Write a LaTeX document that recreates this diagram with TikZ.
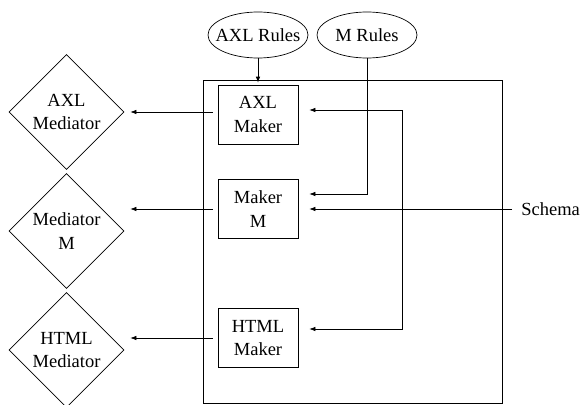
\documentclass[tikz,border=0pt]{standalone}
\usepackage{fontspec}
\setmainfont{Liberation Serif}
\usetikzlibrary{shapes.geometric,arrows.meta}
\tikzset{
 maker/.style={draw, minimum width=80pt, minimum height=59pt, inner sep=0pt, align=center},
 mediator/.style={draw, diamond, minimum size=115pt, inner sep=0pt, align=center},
 rules/.style={draw, ellipse, minimum width=100pt, minimum height=46pt, inner sep=0pt},
 arr/.style={-{Latex[length=6pt,width=4.5pt]}},
 arrboth/.style={{Latex[length=6pt,width=4.5pt]}-{Latex[length=6pt,width=4.5pt]}}
}
\begin{document}
\begin{tikzpicture}[x=1pt, y=-1pt, line width=0.7pt,
 font=\fontsize{18.5pt}{23.5pt}\selectfont]
\useasboundingbox (0,0) rectangle (585,404);

\node[rules] (axlrules) at (258,35) {\makebox[0pt]{AXL Rules}};
\node[rules] (mrules) at (367,35) {\makebox[0pt]{M Rules}};

\draw (203,80) rectangle (502,403);

\node[maker] (axlmaker) at (258,114.5) {AXL\\Maker};
\node[maker] (makerm) at (258,209) {Maker\\M};
\node[maker] (htmlmaker) at (258,338) {HTML\\Maker};

\node[mediator] (axlmed) at (66.5,112) {AXL\\Mediator};
\node[mediator] (medm) at (66.5,231) {Mediator\\M};
\node[mediator] (htmlmed) at (66.5,350) {HTML\\Mediator};

\node[anchor=west, inner sep=0pt] (schema) at (521,209) {Schema};

\coordinate (bustop) at (402,110);
\coordinate (busbot) at (402,329);

\draw[arr, shorten >=2pt] (axlrules) -- (axlmaker);

\draw[arr, shorten <=5pt, shorten >=6pt] (axlmaker.west |- axlmed.east) -- (axlmed.east);
\draw[arr, shorten <=5pt, shorten >=6pt] (makerm.west) -- (makerm.west -| medm.east);
\draw[arr, shorten <=5pt, shorten >=6pt] (htmlmaker.west) -- (htmlmaker.west -| htmlmed.east);

\draw[arrboth, shorten <=11pt, shorten >=11pt] (bustop -| axlmaker.east) -- (bustop)
 -- (busbot) -- (busbot -| htmlmaker.east);
\draw[arr, shorten >=11pt] (mrules.south) |- ([yshift=15pt]makerm.east);
\draw[arr, shorten <=9pt, shorten >=11pt] (schema.west) -- (makerm.east);
\end{tikzpicture}
\end{document}
